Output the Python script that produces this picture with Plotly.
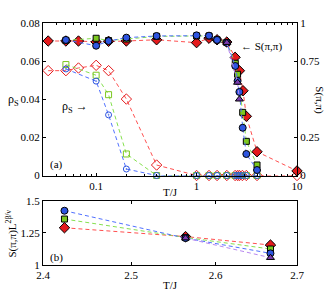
import math
import plotly.graph_objects as go

# ---------------- data ----------------
# top panel: rho_s (left axis), open markers
T_red = [0.0333, 0.05, 0.0667, 0.1, 0.133, 0.2, 0.4, 1.0, 1.33, 1.6, 2.0, 2.42, 2.56, 2.67, 2.86, 3.13, 4.0, 10.0]
rho_red = [0.055, 0.055, 0.0564, 0.0578, 0.055, 0.0401, 0.0055, 0, 0, 0, 0, 0, 0, 0, 0, 0, 0, 0]
T_gb = [0.05, 0.1, 0.133, 0.2, 0.4, 1.0, 1.33, 1.6, 2.0, 2.42, 2.56, 2.67, 2.86, 3.13, 4.0]
rho_green = [0.0582, 0.0526, 0.0424, 0.0113, 0, 0, 0, 0, 0, 0, 0, 0, 0, 0, 0]
rho_blue = [0.0559, 0.0495, 0.0318, 0.0034, 0, 0, 0, 0, 0, 0, 0, 0, 0, 0, 0]

# top panel: S(pi,pi) (right axis), filled markers
TS_red = [0.0333, 0.05, 0.0667, 0.1, 0.133, 0.2, 0.4, 1.0, 1.33, 1.6, 2.0, 2.42, 2.67, 2.9, 3.13, 4.0, 10.0]
S_red = [0.882, 0.882, 0.882, 0.876, 0.88, 0.882, 0.89, 0.871, 0.9, 0.89, 0.875, 0.775, 0.687, 0.556, 0.388, 0.156, 0.03]
TS_green = [0.05, 0.1, 0.133, 0.2, 0.4, 1.0, 1.33, 1.6, 2.0, 2.43, 2.56, 2.88, 3.13, 4.0]
S_green = [0.886, 0.9, 0.885, 0.895, 0.912, 0.915, 0.915, 0.89, 0.872, 0.736, 0.664, 0.414, 0.224, 0.069]
TS_blue = [0.05, 0.1, 0.133, 0.2, 0.4, 1.0, 1.33, 1.6, 2.0, 2.43, 2.56, 2.67, 2.88, 3.13, 4.0]
S_blue = [0.889, 0.851, 0.882, 0.904, 0.915, 0.919, 0.917, 0.889, 0.87, 0.718, 0.62, 0.548, 0.313, 0.141, 0.036]
TS_purple = [2.0, 2.56, 2.67]
S_purple = [0.871, 0.61, 0.5]

# bottom panel: S(pi,pi) L^{2beta/nu}
Tb = [2.424, 2.564, 2.667]
Sb_red = [1.291, 1.222, 1.156]
Sb_green = [1.359, 1.215, 1.125]
Sb_blue = [1.424, 1.21, 1.091]
Tb_purple = [2.564, 2.667]
Sb_purple = [1.21, 1.057]

x_ticks_top = [0.1, 1, 10]
x_ticktext_top = ["0.1", "1", "10"]
rho_ticks = [0, 0.02, 0.04, 0.06, 0.08]
rho_ticktext = ["0", "0.02", "0.04", "0.06", "0.08"]
S_ticks = [0, 0.25, 0.75, 1]
S_ticktext = ["0", "0.25", "0.75", "1"]
xb_ticks = [2.4, 2.5, 2.6, 2.7]
xb_ticktext = ["2.4", "2.5", "2.6", "2.7"]
yb_ticks = [1, 1.25, 1.5]
yb_ticktext = ["1", "1.25", "1.5"]

# ---------------- style ----------------
RED_L, GRN_L, BLU_L, PUR_L = "#ff5050", "#86e050", "#5070ff", "#b888f0"
RED_F, GRN_F, BLU_F, PUR_F = "#e41a1c", "#7cc820", "#2e55e0", "#7a3cb0"
DASH = "4px,3px"
FONT = "Liberation Serif, Times New Roman, serif"

fig = go.Figure()

def line_trace(x, y, color, sym, mcol, size, xa, ya, filled=True):
    if filled:
        marker = dict(symbol=sym, size=size, color=mcol, line=dict(color="black", width=1))
    else:
        marker = dict(symbol=sym, size=size, color=mcol, line=dict(color=mcol, width=1))
    fig.add_trace(go.Scatter(x=x, y=y, mode="lines+markers", xaxis=xa, yaxis=ya,
                             line=dict(color=color, width=1, dash=DASH),
                             marker=marker, showlegend=False, cliponaxis=False))

# rho_s (open markers)
line_trace(T_red, rho_red, RED_L, "diamond-open", RED_F, 8, "x", "y", False)
line_trace(T_gb, rho_green, GRN_L, "square-open", GRN_F, 6, "x", "y", False)
line_trace(T_gb, rho_blue, BLU_L, "circle-open-dot", BLU_F, 6, "x", "y", False)

# S(pi,pi) filled
line_trace(TS_red, S_red, RED_L, "diamond", RED_F, 8, "x", "y3")
line_trace(TS_green, S_green, GRN_L, "square", GRN_F, 6, "x", "y3")
line_trace(TS_blue, S_blue, BLU_L, "circle", BLU_F, 7, "x", "y3")
line_trace(TS_purple, S_purple, PUR_L, "triangle-up", PUR_F, 7, "x", "y3")

# bottom panel
line_trace(Tb, Sb_red, RED_L, "diamond", RED_F, 8, "x2", "y2")
line_trace(Tb, Sb_green, GRN_L, "square", GRN_F, 6, "x2", "y2")
line_trace(Tb, Sb_blue, BLU_L, "circle", BLU_F, 7, "x2", "y2")
line_trace(Tb_purple, Sb_purple, PUR_L, "triangle-up", PUR_F, 7, "x2", "y2")

minor_log = []
for dec in [0.01, 0.1, 1]:
    for k in range(2, 10):
        v = dec * k
        if 0.0296 <= v <= 10:
            minor_log.append(v)

axis_common = dict(showline=True, linecolor="black", linewidth=1, ticks="inside",
                   ticklen=3, tickcolor="black", showgrid=False, zeroline=False,
                   tickfont=dict(family=FONT, size=11, color="black"))

fig.update_layout(
    width=332, height=299,
    margin=dict(l=43, r=31, t=23, b=34),
    paper_bgcolor="white", plot_bgcolor="white",
    font=dict(family=FONT, size=11, color="black"),
    xaxis=dict(type="log", range=[-1.529, 1], domain=[0, 1], anchor="y",
               tickvals=x_ticks_top, ticktext=x_ticktext_top, mirror="ticks",
               minor=dict(ticks="inside", ticklen=2, tickvals=minor_log, tickcolor="black"),
               **axis_common),
    yaxis=dict(range=[0, 0.08], domain=[0.3698, 1], anchor="x",
               tickvals=rho_ticks, ticktext=rho_ticktext, mirror=False, **axis_common),
    yaxis3=dict(range=[0, 1], overlaying="y", side="right", anchor="x",
                tickvals=S_ticks, ticktext=S_ticktext, **axis_common),
    xaxis2=dict(type="log", range=[math.log10(2.4), math.log10(2.7)], domain=[0, 1], anchor="y2",
                tickvals=xb_ticks, ticktext=xb_ticktext, mirror="ticks", **axis_common),
    yaxis2=dict(range=[1, 1.5], domain=[0, 0.2645], anchor="x2",
                tickvals=yb_ticks, ticktext=yb_ticktext, mirror="ticks", **axis_common),
)

def ann(text, x, y, angle=0, size=11):
    fig.add_annotation(text=text, x=x, y=y, xref="paper", yref="paper",
                       xanchor="center", yanchor="middle", showarrow=False,
                       textangle=angle, font=dict(family=FONT, size=size, color="black"))

W, H, L, T, B = 332, 299, 43, 23, 34
PW, PH = W - L - 31, H - T - B
def px(xp):
    return (xp - L) / PW
def py(yp):
    return (H - B - yp) / PH

ann("ρ<sub>S</sub>", px(13), py(100), size=12)
ann("S(π,π)", px(324), py(100), angle=90)
ann("T/J", px(172), py(192))
ann("T/J", px(172), py(285))
ann("S(π,π)L<sup>2β/ν</sup>", px(11), py(233), angle=-90)
ann("(a)", px(57), py(164))
ann("(b)", px(57), py(257))
ann("ρ<sub>S</sub> →", px(76), py(107), size=12)
ann("← S(π,π)", px(265), py(46.5))

fig.write_html("out.html", config={"displayModeBar": False},
               post_script="document.body.style.margin='0px';document.body.style.overflow='hidden';")
